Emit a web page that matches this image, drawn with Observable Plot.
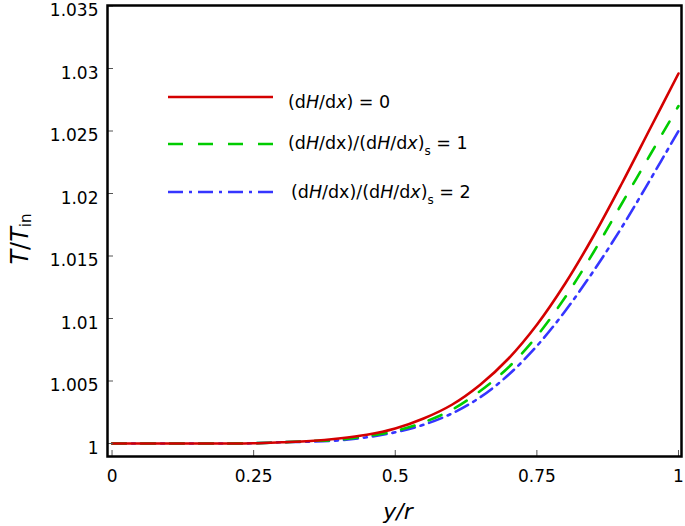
<!DOCTYPE html>
<html><head><meta charset="utf-8">
<script src="https://cdn.jsdelivr.net/npm/d3@7"></script>
<script src="https://cdn.jsdelivr.net/npm/@observablehq/plot@0.6"></script>
<style>
body{margin:0;background:#fff}
#wrap{position:relative;width:685px;height:526px;font-family:"DejaVu Sans",sans-serif}
#wrap svg.ov{position:absolute;left:0;top:0;pointer-events:none}
</style>
</head><body><div id="wrap"></div>
<script>
// y/r positions
const xr = [0, 0.1, 0.2, 0.25, 0.3, 0.35, 0.4, 0.45, 0.5, 0.55, 0.6, 0.65, 0.7, 0.75, 0.8, 0.85, 0.9, 0.95, 1.0];
// (dH/dx) = 0
const seriesRed   = [1.0000, 1.0000, 1.0000, 1.00002, 1.0001, 1.0002, 1.0004, 1.0007, 1.0012, 1.0020, 1.0031, 1.0047, 1.0068, 1.0095, 1.0128, 1.0166, 1.0208, 1.0252, 1.0296];
// (dH/dx)/(dH/dx)s = 1
const seriesGreen = [1.0000, 1.0000, 1.0000, 1.00002, 1.0001, 1.0002, 1.0003, 1.0006, 1.0010, 1.0017, 1.0027, 1.0042, 1.0061, 1.0086, 1.0117, 1.0153, 1.0192, 1.0231, 1.0270];
// (dH/dx)/(dH/dx)s = 2
const seriesBlue  = [1.0000, 1.0000, 1.0000, 1.00002, 1.0001, 1.00015, 1.00025, 1.0005, 1.0009, 1.0015, 1.0024, 1.0037, 1.0055, 1.0078, 1.0106, 1.0138, 1.0173, 1.0211, 1.0250];
const xTicks = [0, 0.25, 0.5, 0.75, 1];
const xTickLabels = ["0", "0.25", "0.5", "0.75", "1"];
const yTicks = [1, 1.005, 1.01, 1.015, 1.02, 1.025, 1.03, 1.035];
const yTickLabels = ["1", "1.005", "1.01", "1.015", "1.02", "1.025", "1.03", "1.035"];

const W = 685, H = 526, mL = 107, mR = 4, mT = 5, mB = 70;
const FONT = "'DejaVu Sans', sans-serif";
const toRows = (vals) => xr.map((x, i) => ({x, v: vals[i]}));

const plot = Plot.plot({
  width: W, height: H,
  marginLeft: mL, marginRight: mR, marginTop: mT, marginBottom: mB,
  style: {fontSize: "17px", fontFamily: FONT, color: "#000", background: "#fff", overflow: "visible"},
  x: {domain: [-0.008, 1.0053]},
  y: {domain: [0.99896, 1.03504]},
  marks: [
    Plot.line(toRows(seriesBlue), {x: "x", y: "v", stroke: "#3535ff", strokeWidth: 2.6, strokeDasharray: "14,6,3,6", curve: "catmull-rom"}),
    Plot.line(toRows(seriesGreen), {x: "x", y: "v", stroke: "#00cc00", strokeWidth: 2.6, strokeDasharray: "14,15", curve: "catmull-rom"}),
    Plot.line(toRows(seriesRed), {x: "x", y: "v", stroke: "#d40000", strokeWidth: 2.6, curve: "catmull-rom"}),
    Plot.tickX(xTicks, {x: d => d, stroke: "#555", strokeWidth: 1, insetTop: (H - mT - mB) - 6}),
    Plot.tickY(yTicks, {y: d => d, stroke: "#555", strokeWidth: 1, insetRight: (W - mL - mR) - 6}),
    Plot.axisX(xTicks, {tickSize: 0, tickPadding: 13, fontSize: 17, tickFormat: d => xTickLabels[xTicks.indexOf(d)], label: null}),
    Plot.axisY(yTicks, {tickSize: 0, tickPadding: 9, fontSize: 17, dy: 5, tickFormat: d => yTickLabels[yTicks.indexOf(d)], label: null}),
    Plot.frame({stroke: "#000", strokeWidth: 2.5})
  ]
});
const wrap = document.getElementById("wrap");
wrap.appendChild(plot);

// overlay: legend and axis titles
const ns = "http://www.w3.org/2000/svg";
const ov = document.createElementNS(ns, "svg");
ov.setAttribute("class", "ov");
ov.setAttribute("width", W); ov.setAttribute("height", H);
ov.innerHTML = `
<g font-family="${FONT}" fill="#000">
  <line x1="168" x2="273" y1="97" y2="97" stroke="#d40000" stroke-width="2.6"/>
  <text x="288" y="108" font-size="17.5">(d<tspan font-style="italic">H</tspan>/d<tspan font-style="italic">x</tspan>) = 0</text>
  <line x1="168" x2="273" y1="144" y2="144" stroke="#00cc00" stroke-width="2.6" stroke-dasharray="15,15"/>
  <text x="288" y="149" font-size="17.5">(d<tspan font-style="italic">H</tspan>/dx)/(d<tspan font-style="italic">H</tspan>/d<tspan font-style="italic">x</tspan>)<tspan font-size="12" dy="6">s</tspan><tspan dy="-6"> = 1</tspan></text>
  <line x1="168" x2="273" y1="192" y2="192" stroke="#3535ff" stroke-width="2.6" stroke-dasharray="15,6,3,6"/>
  <text x="291" y="198" font-size="17.5">(d<tspan font-style="italic">H</tspan>/dx)/(d<tspan font-style="italic">H</tspan>/d<tspan font-style="italic">x</tspan>)<tspan font-size="12" dy="6">s</tspan><tspan dy="-6"> = 2</tspan></text>
  <text x="398" y="519" font-size="22" font-style="italic" text-anchor="middle">y/r</text>
  <text transform="translate(28,239) rotate(-90)" font-size="24" text-anchor="middle"><tspan font-style="italic">T</tspan>/<tspan font-style="italic">T</tspan><tspan font-size="15" dy="3">in</tspan></text>
</g>`;
wrap.appendChild(ov);
</script>
</body></html>
